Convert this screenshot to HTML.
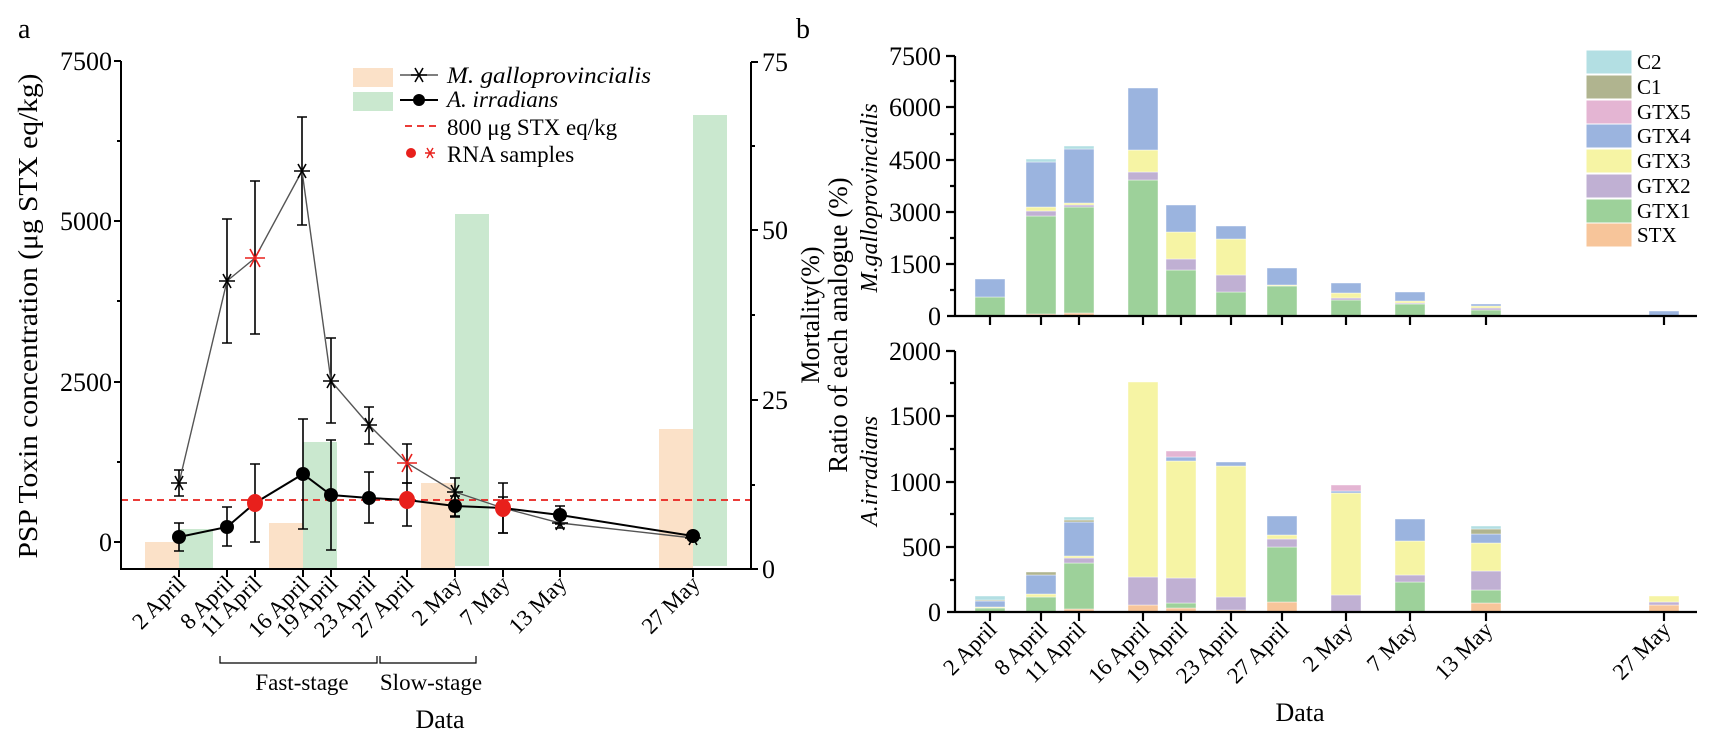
<!DOCTYPE html>
<html><head><meta charset="utf-8"><style>
html,body{margin:0;padding:0;background:#fff;}
svg{display:block;font-family:"Liberation Serif",serif;}
</style></head><body>
<svg width="1713" height="740" viewBox="0 0 1713 740" xmlns="http://www.w3.org/2000/svg">
<defs>
<g id="star"><path d="M-8,0H8M-4,-7L4,7M-4,7L4,-7" stroke-width="1.6" fill="none"/></g>
<g id="bstar"><path d="M-10,0H10M-5,-9L5,9M-5,9L5,-9" stroke-width="1.6" fill="none"/></g>
</defs>
<rect width="1713" height="740" fill="#fff"/>
<text x="18" y="38" font-size="28">a</text>
<text x="796" y="38" font-size="28">b</text>

<g>
<rect x="145" y="542" width="34" height="27" fill="#fbe1c8"/>
<rect x="179" y="529" width="34" height="40" fill="#cae8cf"/>
<rect x="269" y="523" width="34" height="46" fill="#fbe1c8"/>
<rect x="303" y="442" width="34" height="127" fill="#cae8cf"/>
<rect x="421" y="483" width="34" height="86" fill="#fbe1c8"/>
<rect x="455" y="214" width="34" height="352" fill="#cae8cf"/>
<rect x="659" y="429" width="34" height="140" fill="#fbe1c8"/>
<rect x="693" y="115" width="34" height="451" fill="#cae8cf"/>
</g>
<line x1="121" y1="500" x2="751" y2="500" stroke="#e8201c" stroke-width="1.8" stroke-dasharray="7,5"/>

<g stroke="#000" stroke-width="2" fill="none">
<line x1="121" y1="61" x2="121" y2="569"/>
<line x1="120" y1="569" x2="752" y2="569"/>
<line x1="751" y1="62" x2="751" y2="569"/>
<path d="M121,61h-7M121,221h-7M121,382h-7M121,542h-7M121,141h-4M121,301h-4M121,462h-4"/>
<path d="M751,62h7M751,230h7M751,400h7M751,569h7M751,146h4M751,315h4M751,485h4"/>
<path d="M179,569v8M227,569v8M255,569v8M303,569v8M331,569v8M369,569v8M407,569v8M455,569v8M503,569v8M560,569v8M693,569v8"/>
</g>
<g font-size="26" text-anchor="end">
<text x="112" y="70">7500</text><text x="112" y="230">5000</text><text x="112" y="391">2500</text><text x="112" y="551">0</text>
</g>
<g font-size="26">
<text x="762" y="71">75</text><text x="762" y="239">50</text><text x="762" y="409">25</text><text x="762" y="578">0</text>
</g>
<text transform="translate(37,316) rotate(-90)" font-size="27" text-anchor="middle" textLength="485" lengthAdjust="spacingAndGlyphs">PSP Toxin concentration (μg STX eq/kg)</text>
<text transform="translate(819,315) rotate(-90)" font-size="26" text-anchor="middle">Mortality(%)</text>

<g stroke="#000" stroke-width="1.6" fill="none">
<path d="M179,470V496M174,470h10M174,496h10"/>
<path d="M227,219V343M222,219h10M222,343h10"/>
<path d="M255,181V334M250,181h10M250,334h10"/>
<path d="M302,117V225M297,117h10M297,225h10"/>
<path d="M331,338V423M326,338h10M326,423h10"/>
<path d="M369,407V444M364,407h10M364,444h10"/>
<path d="M407,444V483M402,444h10M402,483h10"/>
<path d="M455,478V517M450,478h10M450,517h10"/>
<path d="M503,483V533M498,483h10M498,533h10"/>
<path d="M560,515V528M555,515h10M555,528h10"/>
<path d="M179,523V551M174,523h10M174,551h10"/>
<path d="M227,507V546M222,507h10M222,546h10"/>
<path d="M255,464V542M250,464h10M250,542h10"/>
<path d="M303,419V529M298,419h10M298,529h10"/>
<path d="M331,440V550M326,440h10M326,550h10"/>
<path d="M369,472V523M364,472h10M364,523h10"/>
<path d="M407,483V526M402,483h10M402,526h10"/>
<path d="M455,496V516M450,496h10M450,516h10"/>
<path d="M503,497V533M498,497h10M498,533h10"/>
<path d="M560,506V524M555,506h10M555,524h10"/>
</g>
<polyline points="179,483 227,281 255,258 302,171 331,381 369,425 407,463 455,492 503,508 560,523 693,538" fill="none" stroke="#555" stroke-width="1.4"/>
<polyline points="179,537 227,527 255,503 303,474 331,495 369,498 407,500 455,506 503,508 560,515 693,536" fill="none" stroke="#000" stroke-width="2"/>
<g fill="#000">
<circle cx="179" cy="537" r="7"/><circle cx="227" cy="527" r="7"/><circle cx="303" cy="474" r="7"/><circle cx="331" cy="495" r="7"/><circle cx="369" cy="498" r="7"/><circle cx="455" cy="506" r="7"/><circle cx="560" cy="515" r="7"/><circle cx="693" cy="536" r="7"/>
</g>
<g fill="#e8201c">
<ellipse cx="255" cy="503" rx="8" ry="9"/><ellipse cx="407" cy="500" rx="8" ry="9"/><ellipse cx="503" cy="508" rx="8" ry="9"/>
</g>
<g stroke="#000">
<use href="#star" x="179" y="483"/><use href="#star" x="227" y="281"/><use href="#star" x="302" y="171"/><use href="#star" x="331" y="381"/><use href="#star" x="369" y="425"/><use href="#star" x="455" y="492"/><use href="#star" x="560" y="523"/><use href="#star" x="693" y="538"/>
</g>
<g stroke="#e8201c">
<use href="#bstar" x="255" y="258"/><use href="#bstar" x="407" y="463"/><use href="#star" x="503" y="508"/>
</g>

<rect x="353" y="68" width="40" height="19" fill="#fbe1c8"/>
<rect x="353" y="92" width="40" height="19" fill="#cae8cf"/>
<line x1="400" y1="75" x2="438" y2="75" stroke="#555" stroke-width="1.4"/>
<use href="#star" x="419" y="75" stroke="#000"/>
<line x1="400" y1="100" x2="438" y2="100" stroke="#000" stroke-width="2"/>
<circle cx="419" cy="100" r="6"/>
<line x1="405" y1="126" x2="438" y2="126" stroke="#e8201c" stroke-width="1.8" stroke-dasharray="7,5"/>
<circle cx="411" cy="153" r="5" fill="#e8201c"/>
<path d="M425,153h10M427,148l6,10M427,158l6,-10" stroke="#e8201c" stroke-width="1.4"/>
<g font-size="23">
<text x="447" y="83" font-style="italic" textLength="204" lengthAdjust="spacingAndGlyphs">M. galloprovincialis</text>
<text x="447" y="107" font-style="italic">A. irradians</text>
<text x="447" y="135">800 μg STX eq/kg</text>
<text x="447" y="162">RNA samples</text>
</g>

<g font-size="23" text-anchor="end">
<text transform="translate(187,585) rotate(-45)">2 April</text>
<text transform="translate(235,585) rotate(-45)">8 April</text>
<text transform="translate(263,585) rotate(-45)">11 April</text>
<text transform="translate(311,585) rotate(-45)">16 April</text>
<text transform="translate(339,585) rotate(-45)">19 April</text>
<text transform="translate(377,585) rotate(-45)">23 April</text>
<text transform="translate(415,585) rotate(-45)">27 April</text>
<text transform="translate(463,585) rotate(-45)">2 May</text>
<text transform="translate(511,585) rotate(-45)">7 May</text>
<text transform="translate(568,585) rotate(-45)">13 May</text>
<text transform="translate(701,585) rotate(-45)">27 May</text>
</g>
<path d="M220,656V663H377V656M380,656V663H476V656" stroke="#000" stroke-width="1.2" fill="none"/>
<g font-size="23" text-anchor="middle">
<text x="302" y="690">Fast-stage</text>
<text x="431" y="690">Slow-stage</text>
</g>
<text x="440" y="728" font-size="26" text-anchor="middle">Data</text>

<text transform="translate(847,325) rotate(-90)" font-size="27" text-anchor="middle">Ratio of each analogue (%)</text>
<text transform="translate(877,198) rotate(-90)" font-size="24" font-style="italic" text-anchor="middle">M.galloprovincialis</text>
<text transform="translate(877,471) rotate(-90)" font-size="24" font-style="italic" text-anchor="middle">A.irradians</text>

<g stroke="rgba(255,255,255,0.7)" stroke-width="0.6">
<rect x="975" y="297" width="30" height="19" fill="#9dd19a"/><rect x="975" y="279" width="30" height="18" fill="#9bb4df"/>
<rect x="1026" y="314" width="30" height="2" fill="#f7c59a"/><rect x="1026" y="216" width="30" height="98" fill="#9dd19a"/><rect x="1026" y="211" width="30" height="5" fill="#c0b0d3"/><rect x="1026" y="207" width="30" height="4" fill="#f6f4a4"/><rect x="1026" y="162" width="30" height="45" fill="#9bb4df"/><rect x="1026" y="159" width="30" height="3" fill="#b3dfe3"/>
<rect x="1064" y="313" width="30" height="3" fill="#f7c59a"/><rect x="1064" y="207" width="30" height="106" fill="#9dd19a"/><rect x="1064" y="205" width="30" height="2" fill="#c0b0d3"/><rect x="1064" y="203" width="30" height="2" fill="#f6f4a4"/><rect x="1064" y="149" width="30" height="54" fill="#9bb4df"/><rect x="1064" y="146" width="30" height="3" fill="#b3dfe3"/>
<rect x="1128" y="180" width="30" height="136" fill="#9dd19a"/><rect x="1128" y="172" width="30" height="8" fill="#c0b0d3"/><rect x="1128" y="150" width="30" height="22" fill="#f6f4a4"/><rect x="1128" y="88" width="30" height="62" fill="#9bb4df"/>
<rect x="1166" y="270" width="30" height="46" fill="#9dd19a"/><rect x="1166" y="259" width="30" height="11" fill="#c0b0d3"/><rect x="1166" y="232" width="30" height="27" fill="#f6f4a4"/><rect x="1166" y="205" width="30" height="27" fill="#9bb4df"/>
<rect x="1216" y="292" width="30" height="24" fill="#9dd19a"/><rect x="1216" y="275" width="30" height="17" fill="#c0b0d3"/><rect x="1216" y="239" width="30" height="36" fill="#f6f4a4"/><rect x="1216" y="226" width="30" height="13" fill="#9bb4df"/>
<rect x="1267" y="286" width="30" height="30" fill="#9dd19a"/><rect x="1267" y="285" width="30" height="1" fill="#f6f4a4"/><rect x="1267" y="268" width="30" height="17" fill="#9bb4df"/>
<rect x="1331" y="300" width="30" height="16" fill="#9dd19a"/><rect x="1331" y="298" width="30" height="2" fill="#c0b0d3"/><rect x="1331" y="293" width="30" height="5" fill="#f6f4a4"/><rect x="1331" y="283" width="30" height="10" fill="#9bb4df"/>
<rect x="1395" y="304" width="30" height="12" fill="#9dd19a"/><rect x="1395" y="303" width="30" height="1" fill="#c0b0d3"/><rect x="1395" y="301" width="30" height="2" fill="#f6f4a4"/><rect x="1395" y="292" width="30" height="9" fill="#9bb4df"/>
<rect x="1471" y="310" width="30" height="6" fill="#9dd19a"/><rect x="1471" y="308" width="30" height="2" fill="#c0b0d3"/><rect x="1471" y="306" width="30" height="2" fill="#f6f4a4"/><rect x="1471" y="304" width="30" height="2" fill="#9bb4df"/>
<rect x="1649" y="311" width="30" height="5" fill="#9bb4df"/>
<rect x="975" y="608" width="30" height="4" fill="#9dd19a"/><rect x="975" y="607" width="30" height="1" fill="#f6f4a4"/><rect x="975" y="601" width="30" height="6" fill="#9bb4df"/><rect x="975" y="600" width="30" height="1" fill="#b0b48f"/><rect x="975" y="596" width="30" height="4" fill="#b3dfe3"/>
<rect x="1026" y="597" width="30" height="15" fill="#9dd19a"/><rect x="1026" y="594" width="30" height="3" fill="#f6f4a4"/><rect x="1026" y="575" width="30" height="19" fill="#9bb4df"/><rect x="1026" y="572" width="30" height="3" fill="#b0b48f"/>
<rect x="1064" y="609" width="30" height="3" fill="#f7c59a"/><rect x="1064" y="563" width="30" height="46" fill="#9dd19a"/><rect x="1064" y="558" width="30" height="5" fill="#c0b0d3"/><rect x="1064" y="556" width="30" height="2" fill="#f6f4a4"/><rect x="1064" y="522" width="30" height="34" fill="#9bb4df"/><rect x="1064" y="520" width="30" height="2" fill="#b0b48f"/><rect x="1064" y="517" width="30" height="3" fill="#b3dfe3"/>
<rect x="1128" y="605" width="30" height="7" fill="#f7c59a"/><rect x="1128" y="577" width="30" height="28" fill="#c0b0d3"/><rect x="1128" y="382" width="30" height="195" fill="#f6f4a4"/>
<rect x="1166" y="608" width="30" height="4" fill="#f7c59a"/><rect x="1166" y="603" width="30" height="5" fill="#9dd19a"/><rect x="1166" y="578" width="30" height="25" fill="#c0b0d3"/><rect x="1166" y="461" width="30" height="117" fill="#f6f4a4"/><rect x="1166" y="457" width="30" height="4" fill="#9bb4df"/><rect x="1166" y="451" width="30" height="6" fill="#e4b5d3"/>
<rect x="1216" y="610" width="30" height="2" fill="#f7c59a"/><rect x="1216" y="597" width="30" height="13" fill="#c0b0d3"/><rect x="1216" y="466" width="30" height="131" fill="#f6f4a4"/><rect x="1216" y="462" width="30" height="4" fill="#9bb4df"/>
<rect x="1267" y="602" width="30" height="10" fill="#f7c59a"/><rect x="1267" y="547" width="30" height="55" fill="#9dd19a"/><rect x="1267" y="539" width="30" height="8" fill="#c0b0d3"/><rect x="1267" y="535" width="30" height="4" fill="#f6f4a4"/><rect x="1267" y="516" width="30" height="19" fill="#9bb4df"/>
<rect x="1331" y="595" width="30" height="17" fill="#c0b0d3"/><rect x="1331" y="493" width="30" height="102" fill="#f6f4a4"/><rect x="1331" y="491" width="30" height="2" fill="#9bb4df"/><rect x="1331" y="485" width="30" height="6" fill="#e4b5d3"/>
<rect x="1395" y="582" width="30" height="30" fill="#9dd19a"/><rect x="1395" y="575" width="30" height="7" fill="#c0b0d3"/><rect x="1395" y="541" width="30" height="34" fill="#f6f4a4"/><rect x="1395" y="519" width="30" height="22" fill="#9bb4df"/>
<rect x="1471" y="603" width="30" height="9" fill="#f7c59a"/><rect x="1471" y="590" width="30" height="13" fill="#9dd19a"/><rect x="1471" y="571" width="30" height="19" fill="#c0b0d3"/><rect x="1471" y="543" width="30" height="28" fill="#f6f4a4"/><rect x="1471" y="534" width="30" height="9" fill="#9bb4df"/><rect x="1471" y="529" width="30" height="5" fill="#b0b48f"/><rect x="1471" y="526" width="30" height="3" fill="#b3dfe3"/>
<rect x="1649" y="605" width="30" height="7" fill="#f7c59a"/><rect x="1649" y="602" width="30" height="3" fill="#c0b0d3"/><rect x="1649" y="596" width="30" height="6" fill="#f6f4a4"/>
</g>

<g stroke="#000" stroke-width="2.2" fill="none">
<line x1="955" y1="56" x2="955" y2="317"/>
<line x1="947" y1="316" x2="1697" y2="316"/>
<path d="M955,56h-9M955,107h-9M955,160h-9M955,212h-9M955,264h-9M955,81h-5M955,134h-5M955,186h-5M955,238h-5M955,290h-5"/>
<path d="M990,316v9M1041,316v9M1079,316v9M1143,316v9M1181,316v9M1231,316v9M1282,316v9M1346,316v9M1410,316v9M1486,316v9M1664,316v9"/>
<line x1="955" y1="351" x2="955" y2="613"/>
<line x1="947" y1="612" x2="1697" y2="612"/>
<path d="M955,351h-9M955,416h-9M955,482h-9M955,547h-9M955,383h-5M955,449h-5M955,514h-5M955,580h-5"/>
<path d="M990,612v9M1041,612v9M1079,612v9M1143,612v9M1181,612v9M1231,612v9M1282,612v9M1346,612v9M1410,612v9M1486,612v9M1664,612v9"/>
</g>
<g font-size="26" text-anchor="end">
<text x="941" y="65">7500</text><text x="941" y="116">6000</text><text x="941" y="169">4500</text><text x="941" y="221">3000</text><text x="941" y="273">1500</text><text x="941" y="325">0</text>
<text x="941" y="360">2000</text><text x="941" y="425">1500</text><text x="941" y="491">1000</text><text x="941" y="556">500</text><text x="941" y="621">0</text>
</g>
<g stroke="#fff" stroke-width="1">
<rect x="1586" y="50" width="46" height="24" fill="#b3dfe3"/>
<rect x="1586" y="75" width="46" height="24" fill="#b0b48f"/>
<rect x="1586" y="100" width="46" height="24" fill="#e4b5d3"/>
<rect x="1586" y="124" width="46" height="24" fill="#9bb4df"/>
<rect x="1586" y="149" width="46" height="24" fill="#f6f4a4"/>
<rect x="1586" y="174" width="46" height="24" fill="#c0b0d3"/>
<rect x="1586" y="199" width="46" height="24" fill="#9dd19a"/>
<rect x="1586" y="223" width="46" height="24" fill="#f7c59a"/>
</g>
<g font-size="21">
<text x="1637" y="69">C2</text><text x="1637" y="94">C1</text><text x="1637" y="119">GTX5</text><text x="1637" y="143">GTX4</text><text x="1637" y="168">GTX3</text><text x="1637" y="193">GTX2</text><text x="1637" y="218">GTX1</text><text x="1637" y="242">STX</text>
</g>
<g font-size="23" text-anchor="end">
<text transform="translate(998,631) rotate(-45)">2 April</text>
<text transform="translate(1049,631) rotate(-45)">8 April</text>
<text transform="translate(1087,631) rotate(-45)">11 April</text>
<text transform="translate(1151,631) rotate(-45)">16 April</text>
<text transform="translate(1189,631) rotate(-45)">19 April</text>
<text transform="translate(1239,631) rotate(-45)">23 April</text>
<text transform="translate(1290,631) rotate(-45)">27 April</text>
<text transform="translate(1354,631) rotate(-45)">2 May</text>
<text transform="translate(1418,631) rotate(-45)">7 May</text>
<text transform="translate(1494,631) rotate(-45)">13 May</text>
<text transform="translate(1672,631) rotate(-45)">27 May</text>
</g>
<text x="1300" y="721" font-size="26" text-anchor="middle">Data</text>
</svg>
</body></html>
